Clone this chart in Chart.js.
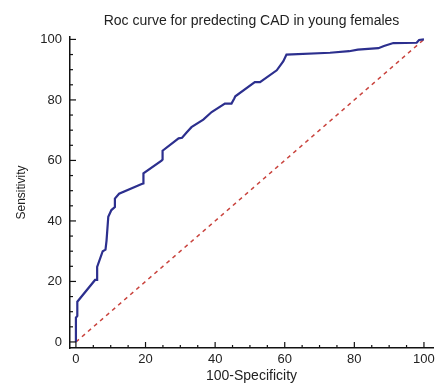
<!DOCTYPE html>
<html>
<head>
<meta charset="utf-8">
<script src="https://cdn.jsdelivr.net/npm/chart.js@4"></script>
<style>
  html, body { margin: 0; padding: 0; background: #fff; }
  #wrap { width: 435px; height: 383px; }
</style>
</head>
<body>
<div id="wrap"><canvas id="myChart"></canvas></div>
<script>
// ROC curve points
const specificity = [0, 0, 0.4, 0.4, 5.5, 6.1, 6.1, 7.7, 8.5, 8.8, 9.3, 10.2, 11.2, 11.2, 12.4,
  18.9, 19.4, 19.4, 24.6, 24.9, 24.9, 29.5, 30.5, 31.8, 33.2, 36.6, 39, 42.8, 44.7, 45.5,
  45.8, 51.4, 52.9, 57.7, 59.1, 59.6, 60.5, 73, 78.5, 81, 86.9, 88.5, 91.2, 97.9, 98.6, 100];
const sensitivity = [0, 8, 8.6, 13.3, 20.5, 20.5, 24.8, 30, 30.5, 33.5, 41.4, 43.6, 44.6, 47.4, 49,
  52.2, 52.4, 55.7, 59.9, 60.3, 63.2, 67.3, 67.5, 69.2, 71, 73.5, 76, 78.8, 78.8, 80.5,
  81.2, 85.9, 85.9, 89.8, 92, 92.8, 95, 95.6, 96.1, 96.6, 97.1, 97.8, 98.8, 98.9, 99.8, 100];
const refX = [0, 100];
const refY = [0, 100];
const tickVals = [0, 20, 40, 60, 80, 100];
const minorVals = [0, 5, 10, 15, 20, 25, 30, 35, 40, 45, 50, 55, 60, 65, 70, 75, 80, 85, 90, 95, 100];

const titleText = "Roc curve for predecting CAD in young females";
const fontFam = "'Liberation Sans', Arial, sans-serif";

const roc = specificity.map((x, i) => ({ x: x, y: sensitivity[i] }));
const ref = refX.map((x, i) => ({ x: x, y: refY[i] }));

// inward tick marks + title
const extras = {
  id: "extras",
  afterDraw(chart) {
    const ctx = chart.ctx;
    const xs = chart.scales.x, ys = chart.scales.y;
    const area = chart.chartArea;
    ctx.save();
    ctx.strokeStyle = "#111";
    ctx.lineWidth = 1.2;
    minorVals.forEach((v) => {
      const major = v % 20 === 0;
      const len = major ? 6 : 3;
      const px = xs.getPixelForValue(v);
      ctx.beginPath();
      ctx.moveTo(px, area.bottom);
      ctx.lineTo(px, area.bottom - len);
      ctx.stroke();
      const py = ys.getPixelForValue(v);
      ctx.beginPath();
      ctx.moveTo(area.left, py);
      ctx.lineTo(area.left + len, py);
      ctx.stroke();
    });
    ctx.fillStyle = "#222";
    ctx.font = "14px " + fontFam;
    ctx.textAlign = "center";
    ctx.textBaseline = "middle";
    ctx.fillText(titleText, (area.left + area.right) / 2, 21);
    ctx.restore();
  }
};

new Chart("myChart", {
  type: "scatter",
  data: {
    datasets: [
      {
        label: "ROC",
        data: roc,
        showLine: true,
        borderColor: "#2c2f8e",
        borderWidth: 2.2,
        pointRadius: 0,
        tension: 0
      },
      {
        label: "Reference",
        data: ref,
        showLine: true,
        borderColor: "#c9433d",
        borderWidth: 1.5,
        borderDash: [4, 4],
        pointRadius: 0
      }
    ]
  },
  options: {
    responsive: true,
    maintainAspectRatio: false,
    animation: false,
    layout: { padding: { top: 37, right: 2, left: 0, bottom: -2 } },
    plugins: {
      legend: { display: false },
      tooltip: { enabled: false }
    },
    scales: {
      x: {
        type: "linear",
        min: -1.7,
        max: 102.6,
        afterBuildTicks: (s) => { s.ticks = tickVals.map((v) => ({ value: v })); },
        afterFit: (s) => { s.height = 37; s.paddingLeft = 0; s.paddingRight = 0; },
        grid: { display: false, drawTicks: false },
        border: { display: true, color: "#111", width: 1.5 },
        ticks: {
          padding: 4,
          color: "#222",
          font: { family: fontFam, size: 13 },
          maxRotation: 0
        },
        title: {
          display: true,
          text: "100-Specificity",
          color: "#222",
          padding: { top: 0, bottom: 0 },
          font: { family: fontFam, size: 14 }
        }
      },
      y: {
        type: "linear",
        min: -2,
        max: 100.8,
        afterBuildTicks: (s) => { s.ticks = tickVals.map((v) => ({ value: v })); },
        afterFit: (s) => { s.width = 70; },
        grid: { display: false, drawTicks: false },
        border: { display: true, color: "#111", width: 1.5 },
        ticks: {
          padding: 8,
          color: "#222",
          font: { family: fontFam, size: 13 }
        },
        title: {
          display: true,
          text: "Sensitivity",
          color: "#222",
          padding: { top: 14, bottom: 0 },
          font: { family: fontFam, size: 12 }
        }
      }
    }
  },
  plugins: [extras]
});
</script>
</body>
</html>
